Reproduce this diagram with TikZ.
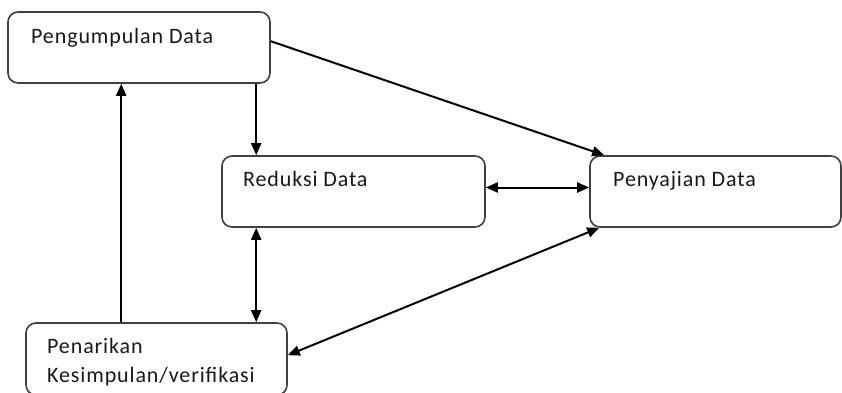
\documentclass[tikz,border=0pt]{standalone}
\usepackage{fontspec}
\setmainfont{Carlito}[LetterSpace=4]
\usetikzlibrary{arrows.meta}
\tikzset{
  stage/.style={draw=black!75, line width=1.6pt, rounded corners=10pt, inner sep=0pt},
  label/.style={anchor=base west, inner sep=0pt, font=\fontsize{22}{26}\selectfont, text=black!90},
  tip/.tip={Triangle[length=12pt,width=10pt]},
  flow/.style={line width=2pt, -tip},
  both/.style={line width=2pt, tip-tip}
}
\begin{document}
\begin{tikzpicture}[x=1pt,y=-1pt]
\useasboundingbox (0,0) rectangle (842,392);
\clip (0,0) rectangle (842,392);
\fill[white] (0,0) rectangle (842,392);

% the four stages
\node[stage, minimum width=262pt, minimum height=71pt] (A) at (139,47.5) {};
\node[stage, minimum width=263pt, minimum height=71pt] (B) at (353.5,191.5) {};
\node[stage, minimum width=251pt, minimum height=71pt] (C) at (715.5,191.5) {};
\node[stage, minimum width=261pt, minimum height=72pt] (D) at (156.5,359) {};

\node[label] (tA) at (31,43) {Pengumpulan Data};
\node[label] (tB) at (243,186) {Reduksi Data};
\node[label] (tC) at (613,186) {Penyajian Data};
\node[label] (tD1) at (47,353) {Penarikan};
\node[label] (tD2) at (47,382) {Kesimpulan/verifikasi};

% attachment points
\coordinate (ab) at ([xshift=35pt]B.north west);
\coordinate (bd) at ([xshift=35pt]B.south west);
\coordinate (da) at ([xshift=96pt]D.north west);

% connectors
\draw[flow] ([yshift=-30pt]A.north east) -- ([xshift=15pt]C.north west);
\draw[flow] (ab |- A.south) -- (ab);
\draw[both] (bd) -- (bd |- D.north);
\draw[flow] (da) -- (da |- A.south);
\draw[both] ([yshift=4pt]B.east) -- ([yshift=4pt]C.west);
\draw[both] ([xshift=10pt]C.south west) -- ([yshift=-33pt]D.north east);
\end{tikzpicture}
\end{document}
